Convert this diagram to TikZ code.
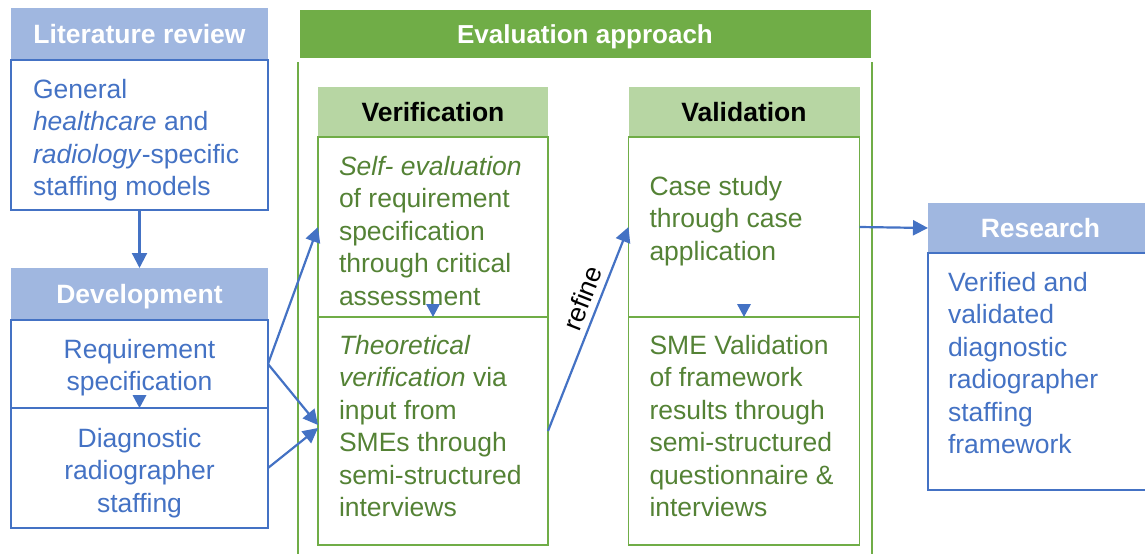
\documentclass[tikz,border=0pt]{standalone}
\usepackage{fontspec}
\setmainfont{Liberation Sans}
\usepackage{tikz}
\usetikzlibrary{positioning,arrows.meta}

\definecolor{blueline}{HTML}{4472C4}
\definecolor{bluehead}{HTML}{A0B7E0}
\definecolor{greenline}{HTML}{70AD47}
\definecolor{greenhead}{HTML}{B7D6A3}
\definecolor{greentext}{HTML}{548235}

\tikzset{
  every node/.style={font=\fontsize{26.5}{32.5}\selectfont, inner sep=0pt, outer sep=0pt},
  box/.style={anchor=north west, line width=1.8pt},
  bluehd/.style={box, fill=bluehead, text=white, text depth=0pt, font=\fontsize{26.5}{32.5}\selectfont\bfseries},
  greenhd/.style={box, fill=greenhead, text=black, text depth=0pt, font=\fontsize{26.5}{32.5}\selectfont\bfseries},
  evalhd/.style={box, fill=greenline, text=white, text depth=0pt, font=\fontsize{26}{32}\selectfont\bfseries},
  bluebox/.style={box, draw=blueline},
  greenbox/.style={box, draw=greenline},
  bluetxt/.style={text=blueline, align=left, anchor=north west},
  greentxt/.style={text=greentext, align=left, anchor=north west},
  arr/.style={blueline, line width=2.2pt, -{Triangle[length=15pt,width=15pt]}},
  tick/.style={fill=blueline}
}

\begin{document}
\begin{tikzpicture}[x=1pt,y=-1pt]
\useasboundingbox (0,0) rectangle (1145,554);

% headers
\node[bluehd, minimum width=257pt, minimum height=52pt] (litH) at (11,8) {Literature review};
\node[bluehd, minimum width=257pt, minimum height=52pt] (devH) at (11,268) {Development};
\node[evalhd, minimum width=571pt, minimum height=48pt] (evalH) at (299.5,10) {Evaluation approach};
\node[greenhd, minimum width=230pt, minimum height=50pt] (verH) at (318,87) {Verification};
\node[greenhd, minimum width=231pt, minimum height=50pt] (valH) at (628.5,87) {Validation};
\node[bluehd, minimum width=225pt, minimum height=50pt] (resH) at (928,203) {Research};

% boxes
\node[bluebox, minimum width=257pt, minimum height=150pt] (litB) at (11,60) {};
\node[bluebox, minimum width=257pt, minimum height=88pt] (devA) at (11,320) {};
\node[bluebox, minimum width=257pt, minimum height=120pt] (devB) at (11,408) {};
\node[greenbox, minimum width=230pt, minimum height=180pt] (verA) at (318,137) {};
\node[greenbox, minimum width=230pt, minimum height=228pt] (verB) at (318,317) {};
\node[greenbox, minimum width=231pt, minimum height=180pt] (valA) at (628.5,137) {};
\node[greenbox, minimum width=231pt, minimum height=228pt] (valB) at (628.5,317) {};
\node[bluebox, minimum width=225pt, minimum height=237pt] (resB) at (928,253) {};

\draw[greenline, line width=1.6pt] (298,62) -- (298,554);
\draw[greenline, line width=1.6pt] (872,62) -- (872,554);

% texts
\node[bluetxt, below right=19pt and 22pt of litB.north west] (litT) {General\\\textit{healthcare} and\\\textit{radiology}-specific\\staffing models};
\node[bluetxt, align=center, below=19pt of devA.north] (devAT) {Requirement\\specification};
\node[bluetxt, align=center, below=20pt of devB.north] (devBT) {Diagnostic\\radiographer\\staffing};
\node[greentxt, below right=19pt and 21pt of verA.north west] (verAT) {\textit{Self- evaluation}\\of requirement\\specification\\through critical\\assessment};
\node[greentxt, below right=18pt and 21pt of verB.north west] (verBT) {\textit{Theoretical}\\\textit{verification} via\\input from\\SMEs through\\semi-structured\\interviews};
\node[greentxt, below right=39pt and 21pt of valA.north west] (valAT) {Case study\\through case\\application};
\node[greentxt, below right=18pt and 21pt of valB.north west] (valBT) {SME Validation\\of framework\\results through\\semi-structured\\questionnaire \&\\interviews};
\node[bluetxt, below right=19pt and 20pt of resB.north west] (resT) {Verified and\\validated\\diagnostic\\radiographer\\staffing\\framework};

% arrows
\draw[arr] (litB.south) -- (devH.north);
\draw[arr] (devA.east) -- (verA.west);
\draw[arr] (devA.east) -- ([yshift=6pt]verB.west);
\draw[arr] (devB.east) -- ([yshift=3pt]verB.west);
\draw[arr] (verB.east) -- (valA.west) node[pos=0.62, sloped, above=7pt, text=black] (refT) {refine};
\draw[arr] (valA.east) -- (resH.west);

\fill[tick] (devA.south) -- +(-7,-13) -- +(7,-13) -- cycle;
\fill[tick] (verA.south) -- +(-7,-13) -- +(7,-13) -- cycle;
\fill[tick] (valA.south) -- +(-7,-13) -- +(7,-13) -- cycle;

\end{tikzpicture}
\end{document}
